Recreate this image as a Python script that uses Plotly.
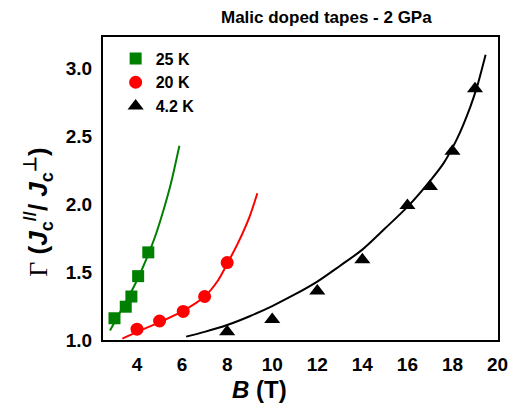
import plotly.graph_objects as go

b_25k = [3.0, 3.5, 3.75, 4.05, 4.5]
g_25k = [1.16, 1.245, 1.32, 1.47, 1.645]
b_20k = [4.0, 5.0, 6.05, 7.0, 8.0]
g_20k = [1.08, 1.14, 1.21, 1.32, 1.57]
b_42k = [8, 10, 12, 14, 16, 17, 18, 19]
g_42k = [1.06, 1.15, 1.36, 1.59, 1.99, 2.13, 2.39, 2.85]

# Fit curves
fit_b_25k = [2.80, 3.20, 3.60, 4.00, 4.40, 4.80, 5.20, 5.50, 5.88]
fit_g_25k = [1.07, 1.19, 1.31, 1.44, 1.59, 1.76, 1.97, 2.15, 2.43]
fit_b_20k = [3.35, 4.0, 5.0, 6.0, 7.0, 7.6, 8.0, 8.5, 9.0, 9.34]
fit_g_20k = [1.01, 1.06, 1.13, 1.21, 1.32, 1.44, 1.56, 1.72, 1.91, 2.08]
fit_b_42k = [6.18, 7, 8, 9, 10, 11, 12, 13, 14, 15, 16, 17, 17.6, 18.2, 18.8, 19.1, 19.47]
fit_g_42k = [1.025, 1.06, 1.11, 1.175, 1.25, 1.335, 1.43, 1.545, 1.665, 1.82, 1.98,
             2.17, 2.30, 2.48, 2.72, 2.87, 3.10]

labels = ["25 K", "20 K", "4.2 K"]
colors = ["#008000", "#ff0000", "#000000"]
symbols = ["square", "circle", "triangle-up"]
sizes = [12, 13, 14]

FONT = "Liberation Sans, Arial, sans-serif"

fig = go.Figure()
fits = [(fit_b_25k, fit_g_25k), (fit_b_20k, fit_g_20k), (fit_b_42k, fit_g_42k)]
for (fx, fy), c in zip(fits, colors):
    fig.add_trace(go.Scatter(x=fx, y=fy, mode="lines", showlegend=False,
                             line=dict(color=c, width=2, shape="spline", smoothing=0.8)))

pts = [(b_25k, g_25k), (b_20k, g_20k), (b_42k, g_42k)]
for (px, py), c, s, sz, lab in zip(pts, colors, symbols, sizes, labels):
    fig.add_trace(go.Scatter(x=px, y=py, mode="markers", name=lab,
                             marker=dict(color=c, symbol=s, size=sz, line=dict(width=0))))

fig.update_layout(
    width=520, height=404,
    margin=dict(l=103, r=12, t=37, b=64),
    paper_bgcolor="white", plot_bgcolor="white",
    font=dict(family=FONT, color="black"),
    showlegend=True,
    legend=dict(x=0.032, y=0.985, xanchor="left", yanchor="top",
                bgcolor="rgba(0,0,0,0)",
                font=dict(size=16, family=FONT, weight="bold"),
                tracegroupgap=0, itemsizing="trace"),
    xaxis=dict(range=[2.49, 20.02], tickvals=[4, 6, 8, 10, 12, 14, 16, 18, 20],
               showgrid=False, zeroline=False, showline=True, linecolor="black",
               linewidth=2, mirror=True, ticks="", ticklabelstandoff=6,
               tickfont=dict(size=19, family=FONT, weight="bold")),
    yaxis=dict(range=[1.0, 3.23], tickvals=[1.0, 1.5, 2.0, 2.5, 3.0],
               ticktext=["1.0", "1.5", "2.0", "2.5", "3.0"],
               showgrid=False, zeroline=False, showline=True, linecolor="black",
               linewidth=2, mirror=True, ticks="", ticklabelstandoff=5,
               tickfont=dict(size=19, family=FONT, weight="bold")),
    annotations=[
        dict(text="<b>Malic doped tapes - 2 GPa</b>", xref="paper", yref="paper",
             x=0.565, y=1.063, xanchor="center", yanchor="middle", showarrow=False,
             font=dict(size=17, family=FONT)),
        dict(text="<b><i>B</i> (T)</b>", xref="paper", yref="paper",
             x=0.395, y=-0.165, xanchor="center", yanchor="middle", showarrow=False,
             font=dict(size=24, family=FONT)),
        dict(text='<span style="font-family:Liberation Serif;font-weight:normal">Γ</span>'
                  '<b> (<i>J</i><sub>c</sub><sup>//</sup>/ <i>J</i><sub>c</sub><sup>⊥</sup>)</b>',
             xref="paper", yref="paper", x=-0.163, y=0.422, textangle=-90,
             xanchor="center", yanchor="middle", showarrow=False,
             font=dict(size=26, family=FONT)),
    ],
)

fig.write_html("out.html")
